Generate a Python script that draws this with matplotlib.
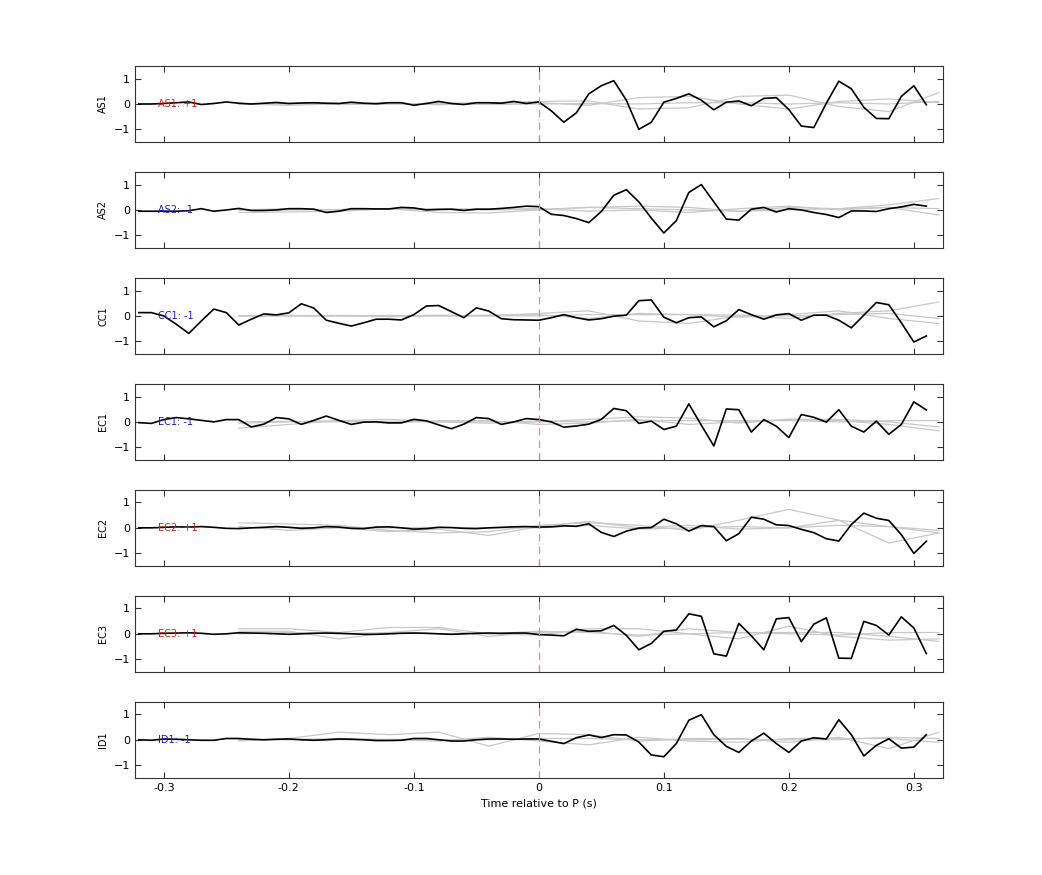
import numpy as np
import matplotlib
matplotlib.use("Agg")
import matplotlib.pyplot as plt

# station names and polarity
stations = ["AS1", "AS2", "CC1", "EC1", "EC2", "EC3", "ID1"]
polarity = [+1, -1, -1, -1, +1, +1, -1]

# black traces, t = -0.32 ... 0.31 s, step 0.01
time = np.round(np.arange(-32, 32) * 0.01, 2)
traces = {
    "AS1": [0, 0, 0.02, 0.05, 0.08, -0.02, 0.02, 0.08, 0.03, 0, 0.03, 0.06, 0.02, 0.04, 0.05, 0.03,
            0.02, 0.07, 0.03, 0.01, 0.05, 0.05, -0.05, 0.02, 0.1, 0.02, -0.02, 0.05, 0.05, 0.03, 0.1, 0.02,
            0.08, -0.27, -0.72, -0.35, 0.4, 0.72, 0.92, 0.15, -1.0, -0.72, 0.07, 0.22, 0.4, 0.15, -0.23, 0.07,
            0.12, -0.07, 0.22, 0.25, -0.22, -0.87, -0.93, 0.03, 0.9, 0.6, -0.13, -0.57, -0.58, 0.3, 0.72, -0.03],
    "AS2": [-0.05, -0.05, -0.05, -0.05, -0.03, 0.05, -0.05, 0, 0.06, -0.02, -0.02, 0, 0.05, 0.05, 0.03, -0.1,
            -0.05, 0.05, 0.05, 0.04, 0.04, 0.1, 0.08, 0, 0.02, 0.03, -0.02, 0.03, 0.03, 0.06, 0.1, 0.15,
            0.13, -0.17, -0.22, -0.34, -0.5, -0.06, 0.58, 0.8, 0.32, -0.32, -0.91, -0.42, 0.69, 1.0, 0.32, -0.36,
            -0.4, 0.03, 0.1, -0.08, 0.05, 0, -0.1, -0.18, -0.3, -0.04, -0.04, -0.06, 0.05, 0.12, 0.22, 0.15],
    "CC1": [0.13, 0.13, 0, -0.33, -0.69, -0.2, 0.27, 0.13, -0.36, -0.13, 0.08, 0.04, 0.12, 0.48, 0.31, -0.17,
            -0.29, -0.4, -0.27, -0.13, -0.13, -0.16, 0.05, 0.39, 0.41, 0.17, -0.07, 0.32, 0.19, -0.11, -0.15, -0.16,
            -0.17, -0.07, 0.05, -0.07, -0.16, -0.11, -0.01, 0.03, 0.6, 0.63, -0.05, -0.27, -0.07, -0.04, -0.43, -0.19,
            0.25, 0.05, -0.13, 0.04, 0.09, -0.17, 0.03, 0.03, -0.17, -0.47, 0.03, 0.53, 0.44, -0.27, -1.03, -0.79],
    "EC1": [-0.03, -0.06, 0.09, 0.17, 0.12, 0.06, 0, 0.09, 0.09, -0.2, -0.09, 0.17, 0.12, -0.1, 0.06, 0.23,
            0.06, -0.1, -0.01, 0, -0.04, -0.04, 0.1, 0.04, -0.12, -0.27, -0.09, 0.17, 0.13, -0.1, 0, 0.13,
            0.09, 0, -0.21, -0.16, -0.09, 0.1, 0.53, 0.44, -0.06, 0.03, -0.3, -0.17, 0.71, -0.13, -0.95, 0.51,
            0.48, -0.4, 0.09, -0.17, -0.62, 0.29, 0.18, -0.01, 0.48, -0.17, -0.4, 0.03, -0.49, -0.1, 0.79, 0.47],
    "EC2": [0, 0, 0.02, 0.04, 0.03, 0.05, 0.02, -0.02, -0.03, 0, 0.02, 0.05, 0.02, -0.02, 0, 0.05,
            0.03, -0.02, -0.03, 0.03, 0.04, 0, -0.05, -0.03, 0.02, 0.01, -0.02, -0.03, 0, 0.02, 0.04, 0.05,
            0.03, 0.04, 0.08, 0.06, 0.16, -0.18, -0.34, -0.13, -0.01, 0.01, 0.34, 0.16, -0.13, 0.09, 0.05, -0.51,
            -0.23, 0.42, 0.34, 0.12, 0.09, -0.06, -0.19, -0.43, -0.52, 0.13, 0.58, 0.38, 0.29, -0.27, -1.01, -0.53],
    "EC3": [0, 0, 0.02, 0.03, 0.04, 0.02, -0.02, 0, 0.04, 0.03, 0.02, 0, -0.02, 0, 0.02, 0.03,
            0.02, 0, -0.02, -0.02, 0, 0.02, 0.03, 0.02, 0, -0.02, 0, 0.02, 0.03, 0.02, 0.03, 0.03,
            -0.03, -0.05, -0.08, 0.18, 0.1, 0.12, 0.33, -0.06, -0.63, -0.38, 0.1, 0.15, 0.79, 0.69, -0.79, -0.88,
            0.41, -0.08, -0.63, 0.59, 0.64, -0.31, 0.38, 0.63, -0.96, -0.97, 0.49, 0.33, -0.05, 0.67, 0.23, -0.78],
    "ID1": [0, -0.02, 0.03, 0.02, 0, -0.02, -0.02, 0.05, 0.05, 0.02, 0, 0.02, 0.03, 0, -0.02, 0,
            0.03, 0.02, 0, -0.03, -0.03, -0.02, 0.05, 0.05, 0, -0.05, -0.05, 0, 0.03, 0.03, 0.02, 0.03,
            0.03, -0.06, -0.15, 0.08, 0.19, 0.09, 0.2, 0.19, -0.09, -0.6, -0.67, -0.15, 0.77, 0.99, 0.2, -0.26,
            -0.5, -0.05, 0.26, -0.15, -0.5, -0.05, 0.08, 0.03, 0.79, 0.2, -0.64, -0.22, 0.04, -0.33, -0.29, 0.2],
}

# grey background traces, t = -0.24 ... 0.32 s, step 0.04
time_grey = np.round(np.arange(-6, 9) * 0.04, 2)
grey = {
    "AS1": [[0, 0.02, -0.02, 0, 0.03, 0.05, 0.1, 0.12, -0.2, -0.15, 0.3, 0.35, -0.1, -0.3, 0.45],
            [0, -0.05, 0, 0.05, -0.03, 0.02, 0.05, -0.05, 0.25, 0.3, 0, -0.2, 0.1, 0.2, 0.05],
            [0, 0, 0.02, 0, 0, -0.02, 0, 0.02, 0, 0.05, 0.05, 0, 0.05, 0, 0.1]],
    "AS2": [[-0.1, -0.08, -0.05, 0.05, -0.1, -0.12, 0, 0.1, 0.15, 0.1, -0.05, 0.1, 0.05, 0.2, 0.45],
            [0, 0.05, 0, 0.03, 0.05, 0.03, 0.05, -0.05, 0, -0.1, 0.05, 0.15, 0, 0.1, -0.2],
            [0, 0, 0.02, 0.05, 0.02, 0, 0.02, 0.1, 0.05, 0, -0.05, 0, 0.05, 0.1, 0.05]],
    "CC1": [[0, 0, 0.02, 0, 0.03, 0, 0.1, 0.2, -0.2, -0.3, 0, -0.1, 0.1, 0.2, 0.55],
            [0, 0.02, 0, -0.03, 0, 0.03, 0.05, -0.1, 0.1, 0.05, -0.05, 0.05, 0.2, -0.1, -0.3],
            [0, 0, 0, 0.02, 0, 0, 0, 0.05, 0.05, 0.05, 0.03, 0, 0.05, 0.1, -0.1]],
    "EC1": [[-0.25, -0.1, 0.05, 0.1, 0, -0.05, 0, 0.1, 0.2, 0.15, -0.05, 0.1, 0.05, -0.1, -0.35],
            [-0.05, 0, 0.05, -0.05, 0.05, 0.05, -0.1, -0.05, 0.1, -0.1, 0, 0.1, 0.1, 0, -0.2],
            [0, 0.02, 0, 0.02, 0, 0, 0.02, 0, 0.05, 0.05, 0.05, 0.05, 0, 0.05, 0.05]],
    "EC2": [[0.2, 0.15, 0.1, -0.1, -0.2, -0.15, 0.1, 0.2, 0.1, -0.1, 0.3, 0.73, 0.3, -0.6, -0.2],
            [0.05, -0.1, 0, -0.15, -0.05, -0.3, 0.05, 0.25, 0, 0.1, -0.05, 0, 0.3, 0.05, -0.2],
            [0, 0.02, 0, 0, 0.02, 0, 0, 0.1, -0.05, 0, 0.05, 0, 0.1, 0.05, -0.1]],
    "EC3": [[0.2, 0.2, 0.05, 0.25, 0.25, 0, -0.05, 0.2, 0.2, 0, -0.2, 0.3, -0.1, -0.25, -0.2],
            [0.1, 0.1, -0.2, 0.05, 0.2, -0.1, 0.05, 0.1, -0.1, 0.2, 0.05, 0.05, 0.05, -0.1, -0.3],
            [0, 0.05, 0, 0.05, 0, 0, 0.1, 0.05, -0.05, 0, 0.05, 0, -0.05, 0.05, 0.05]],
    "ID1": [[-0.05, 0.05, 0.3, 0.2, 0.3, -0.25, 0.25, 0.2, -0.05, 0.05, 0.05, -0.1, 0.1, -0.35, 0.3],
            [0, 0, 0.05, 0, -0.05, 0.1, -0.05, -0.2, 0.1, -0.05, -0.1, 0.05, 0.05, 0.05, -0.1],
            [0, 0.02, 0, 0.02, 0, 0, 0.05, 0.05, 0, 0, 0.02, 0, 0, 0.1, 0.05]],
}

fig = plt.figure(figsize=(10.42, 8.75), dpi=100)
left, width = 0.1296, 0.775
h, pitch, top_bottom = 0.0869, 0.1211, 0.8377

axes = []
for i, name in enumerate(stations):
    ax = fig.add_axes([left, top_bottom - i * pitch, width, h])
    axes.append(ax)
    for g in grey[name]:
        ax.plot(time_grey, g, color="#c8c8c8", lw=0.9)
    ax.plot(time, traces[name], color="black", lw=1.2)
    ax.axvline(0, color="#e88a8a", lw=0.9, dashes=(6, 4))
    col = "#d62020" if polarity[i] > 0 else "#1a1acc"
    ax.text(-0.305, 0, f"{name}: {polarity[i]:+d}", color=col, fontsize=7, va="center")
    ax.set_xlim(-0.323, 0.323)
    ax.set_ylim(-1.5, 1.5)
    ax.set_yticks([-1, 0, 1])
    ax.set_xticks([-0.3, -0.2, -0.1, 0, 0.1, 0.2, 0.3])
    ax.tick_params(direction="in", top=True, right=True, labelsize=8, length=4, width=0.8, color="#333333")
    ax.set_ylabel(name, fontsize=7)
    for s in ax.spines.values():
        s.set_color("#333333")
        s.set_linewidth(0.8)
    if i < len(stations) - 1:
        ax.set_xticklabels([])
    else:
        ax.set_xticklabels(["-0.3", "-0.2", "-0.1", "0", "0.1", "0.2", "0.3"])
        ax.set_xlabel("Time relative to P (s)", fontsize=8)

fig.savefig("out.png", dpi=100)
